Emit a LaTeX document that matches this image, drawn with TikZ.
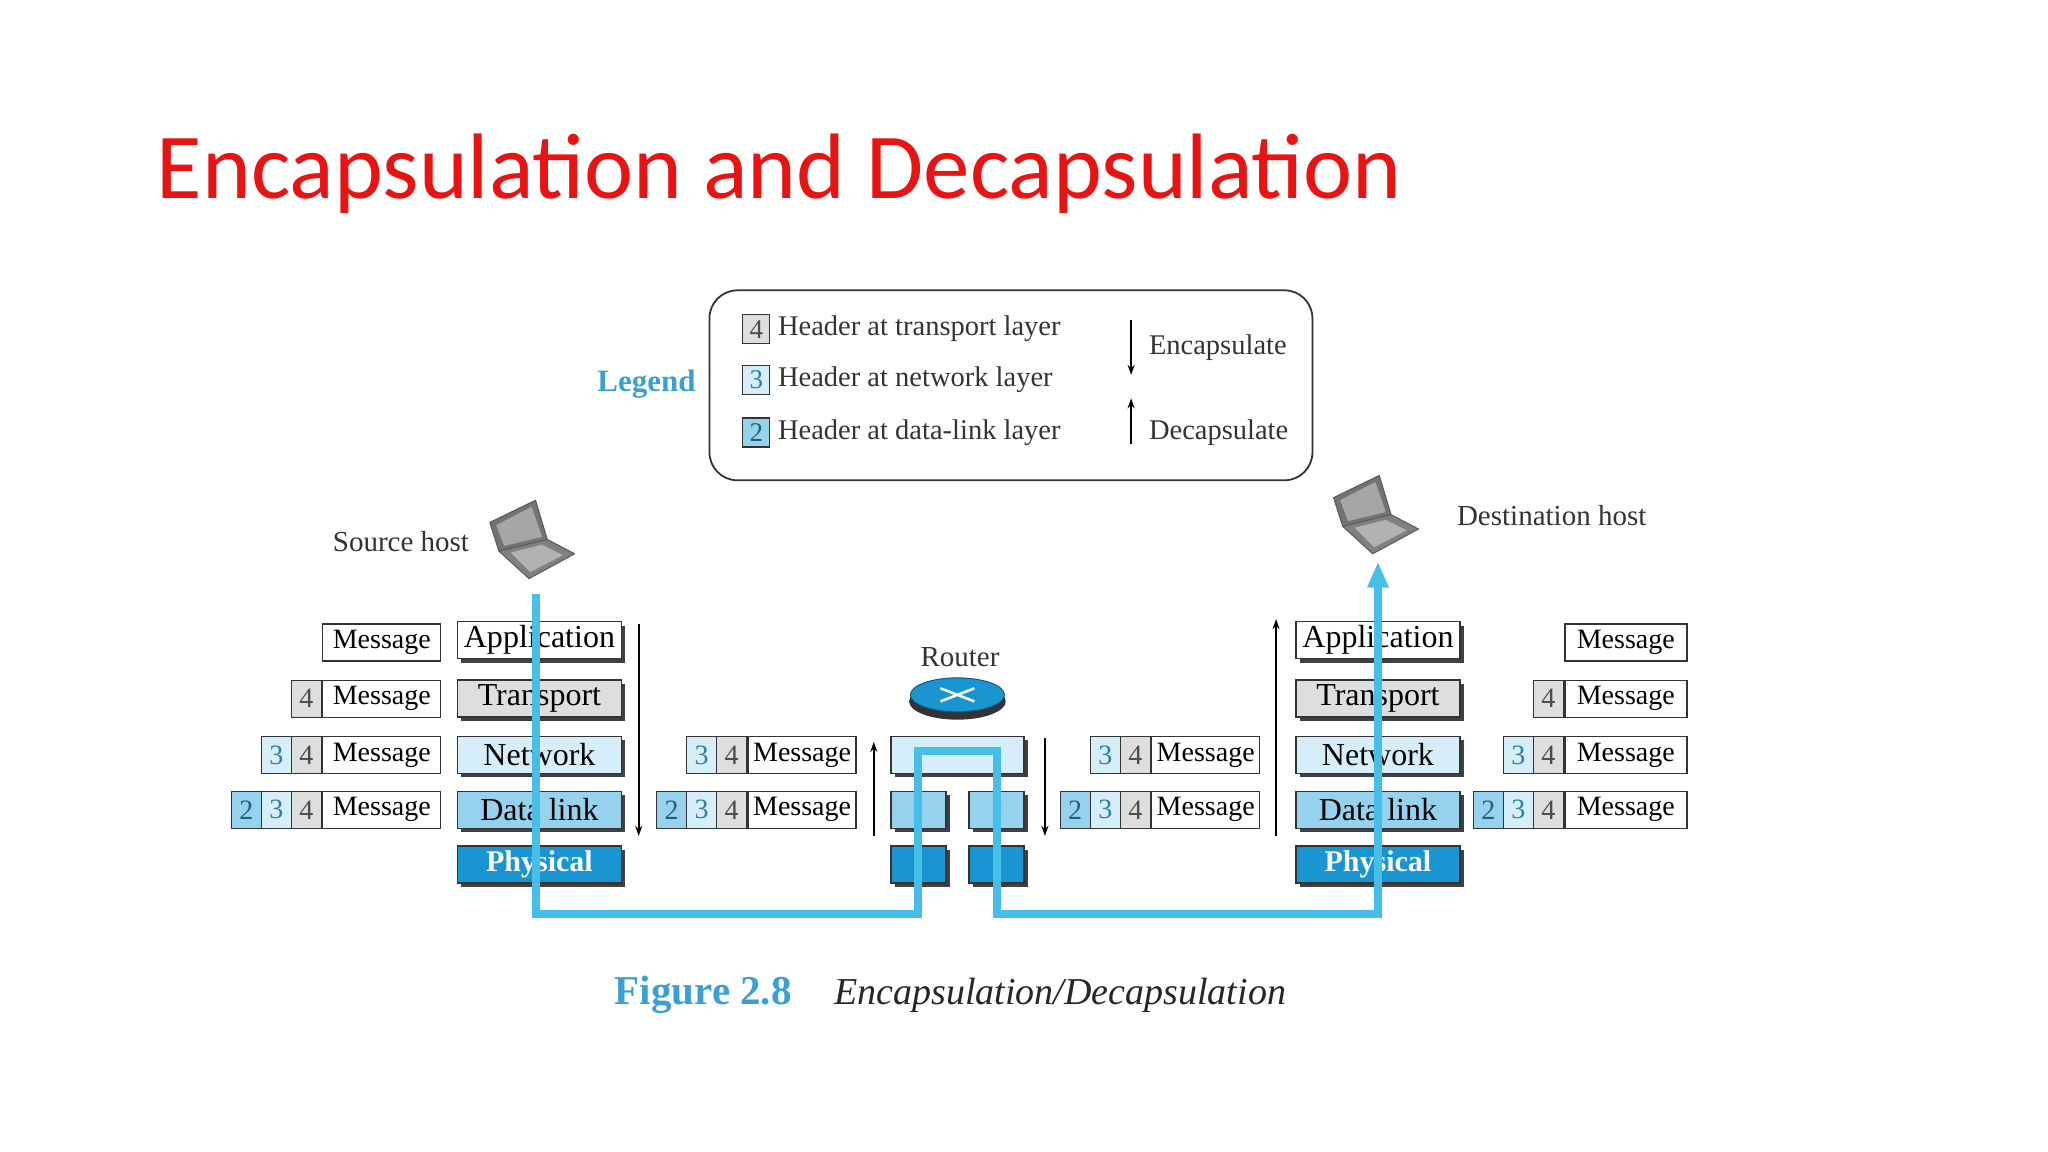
\documentclass[tikz,border=0pt]{standalone}
\usepackage{fontspec}
\setmainfont{Liberation Serif}
\newfontfamily\carl{Carlito}
\usetikzlibrary{shadows,calc,arrows.meta,shapes.geometric}
\definecolor{tred}{RGB}{232,20,20}
\definecolor{lblue}{RGB}{58,160,210}
\definecolor{pipe}{RGB}{70,190,232}
\definecolor{cT}{RGB}{222,222,222}
\definecolor{cN}{RGB}{214,238,250}
\definecolor{cD}{RGB}{150,210,238}
\definecolor{cP}{RGB}{25,150,210}
\tikzset{
 layer/.style={draw=black!80,line width=1.6pt,minimum width=164pt,minimum height=37pt,inner sep=0pt,
   font=\fontsize{32}{34}\selectfont,drop shadow={shadow xshift=4pt,shadow yshift=-4pt,fill=black!75,opacity=1}},
 rbox/.style={draw=black!80,line width=1.6pt,inner sep=0pt,minimum height=37pt,
   drop shadow={shadow xshift=4pt,shadow yshift=-4pt,fill=black!75,opacity=1}},
 msg/.style={draw=black!80,line width=1.4pt,minimum width=118pt,minimum height=37pt,inner sep=0pt,font=\fontsize{28}{30}\selectfont},
 msgs/.style={msg,minimum width=108pt},
 hdr/.style={draw=black!80,line width=1.4pt,minimum width=30pt,minimum height=37pt,inner sep=0pt,font=\fontsize{28}{30}\selectfont,text=black!70},
 hdr4/.style={hdr,fill=cT},
 hdr3/.style={hdr,fill=cN,text=lblue!80!black},
 hdr2/.style={hdr,fill=cD,text=lblue!60!black},
 arr/.style={-{Stealth[length=10pt,width=7pt]},line width=1.8pt},
 lab/.style={font=\fontsize{29}{31}\selectfont,text=black!80},
}
\newcommand\msgrow[5]{%
 \node[#5,anchor=east] (#1) at (#2,#3) {Message};
 \foreach \h [count=\i] in {#4} {\node[hdr\h,anchor=east] (#1h\h) at ($(#1.west)+(-\i*23+23,0)$) {\h};}
}
\begin{document}
\begin{tikzpicture}[x=1.3061pt,y=-1.3061pt]
\useasboundingbox (0,0) rectangle (1568,882);
\node[anchor=base west,inner sep=0pt,text=tred,font=\carl\fontsize{93}{99}\selectfont] (title) at (120,152) {Encapsulation and Decapsulation};

% legend
\node[draw=black!80,line width=1.8pt,rounded corners=28pt,minimum width=603pt,minimum height=190pt] (leg) at (774,295) {};
\node[text=lblue,font=\bfseries\fontsize{31}{33}\selectfont] (legt) at (495,294) {Legend};
\node[hdr4,minimum width=27pt,minimum height=29pt,font=\fontsize{27}{29}\selectfont] (l4) at (579,252) {4};
\node[hdr3,minimum width=27pt,minimum height=29pt,font=\fontsize{27}{29}\selectfont] (l3) at (579,291) {3};
\node[hdr2,minimum width=27pt,minimum height=29pt,font=\fontsize{27}{29}\selectfont] (l2) at (579,331) {2};
\node[lab,anchor=west,font=\fontsize{28.5}{30}\selectfont] (lt4) at (593,252) {Header at transport layer};
\node[lab,anchor=west,font=\fontsize{28.5}{30}\selectfont] (lt3) at (593,291) {Header at network layer};
\node[lab,anchor=west,font=\fontsize{28.5}{30}\selectfont] (lt2) at (593,331) {Header at data-link layer};
\coordinate (ea) at (866,245); \coordinate (eb) at (866,287);
\coordinate (da) at (866,340); \coordinate (db) at (866,305);
\draw[arr] (ea) -- (eb); \draw[arr] (da) -- (db);
\node[lab,anchor=west,font=\fontsize{28.5}{30}\selectfont] (enc) at (877,266) {Encapsulate};
\node[lab,anchor=west,font=\fontsize{28.5}{30}\selectfont] (dec) at (877,331) {Decapsulate};

% hosts
\node[lab] (srct) at (307,415) {Source host};
\node[lab] (dstt) at (1188,395) {Destination host};
\newcommand\laptop[3]{%
 \begin{scope}[shift={(#2,#3)}]
  \fill[black!55] (-36,-12) -- (-1,-29) -- (8,1) -- (-29,10) -- cycle;
  \fill[black!35] (-31,-10) -- (-4,-24) -- (4,-1) -- (-25,6) -- cycle;
  \fill[black!50] (8,1) -- (29,12) -- (-6,31) -- (-29,10) -- cycle;
  \fill[black!30] (4,5) -- (20,13) -- (-5,26) -- (-20,11) -- cycle;
  \draw[black!65,line width=1pt,line join=round] (-36,-12) -- (-1,-29) -- (8,1) -- (29,12) -- (-6,31) -- (-29,10) -- cycle (-29,10) -- (8,1);
 \end{scope}\node[inner sep=0pt,minimum size=40pt] (#1) at (#2,#3) {};}
\laptop{srcl}{411}{412}
\laptop{dstl}{1057}{393}

% stacks
\foreach \nm/\xc in {s/413,d/1055}{
 \node[layer,fill=white] (\nm app) at (\xc,490) {Application};
 \node[layer,fill=cT] (\nm tr) at (\xc,535) {Transport};
 \node[layer,fill=cN] (\nm net) at (\xc,578) {Network};
 \node[layer,fill=cD] (\nm dl) at (\xc,620) {Data link};
 \node[layer,fill=cP,text=white,font=\bfseries\fontsize{30}{32}\selectfont] (\nm ph) at (\xc,662) {Physical};
}
% router
\node[rbox,fill=cN,minimum width=133pt] (rnet) at (733,578) {};
\node[rbox,fill=cD,minimum width=55pt] (rdl1) at (703,620) {};
\node[rbox,fill=cD,minimum width=55pt] (rdl2) at (763,620) {};
\node[rbox,fill=cP,minimum width=55pt] (rph1) at (703,662) {};
\node[rbox,fill=cP,minimum width=55pt] (rph2) at (763,662) {};
\fill[black!80] (733,537) ellipse (37 and 14);
\node[ellipse,fill=cP,draw=cP!60!black,line width=1pt,minimum width=94pt,minimum height=34pt,inner sep=0pt] (rout) at (733,532) {};
\draw[white,line width=2.5pt] (720,527) -- (746,537) (720,537) -- (746,527);
\node[lab] (routt) at (735,503) {Router};

% vertical arrows
\coordinate (a1s) at (489,478); \coordinate (a1e) at (489,640);
\coordinate (a2s) at (669,640); \coordinate (a2e) at (669,568);
\coordinate (a3s) at (800,565); \coordinate (a3e) at (800,640);
\coordinate (a4s) at (977,640); \coordinate (a4e) at (977,474);
\draw[arr] (a1s) -- (a1e); \draw[arr] (a2s) -- (a2e);
\draw[arr] (a3s) -- (a3e); \draw[arr] (a4s) -- (a4e);

% messages
\node[msg,anchor=east] (m1) at (338,492) {Message};
\msgrow{m2}{338}{535}{4}{msg}
\msgrow{m3}{338}{578}{4,3}{msg}
\msgrow{m4}{338}{620}{4,3,2}{msg}
\msgrow{m5}{656}{578}{4,3}{msgs}
\msgrow{m6}{656}{620}{4,3,2}{msgs}
\msgrow{m7}{965}{578}{4,3}{msgs}
\msgrow{m8}{965}{620}{4,3,2}{msgs}
\node[msg,anchor=east,minimum width=122pt] (m9) at (1292,492) {Message};
\msgrow{m10}{1292}{535}{4}{msg,minimum width=122pt}
\msgrow{m11}{1292}{578}{4,3}{msg,minimum width=122pt}
\msgrow{m12}{1292}{620}{4,3,2}{msg,minimum width=122pt}

% pipe
\coordinate (p1) at (410,700); \coordinate (p2) at (703,700); \coordinate (p3) at (703,575);
\coordinate (p4) at (763,575); \coordinate (p5) at (763,700); \coordinate (p6) at (1055,700);
\coordinate (p0) at (410,455); \coordinate (p7) at (1055,430);
\draw[pipe,line width=8pt,line join=miter] (p0) -- (p1) -- (p2) -- (p3) -- (p4) -- (p5) -- (p6) -- ($(p7)+(0,20)$);
\draw[pipe,-{Triangle[length=26pt,width=20pt]},line width=8pt] ($(p6)+(0,-50)$) -- (p7);

% caption
\node[anchor=base west,text=lblue,font=\bfseries\fontsize{41}{43}\selectfont] (fig) at (468,769) {Figure 2.8};
\node[anchor=base west,text=black!85,font=\itshape\fontsize{38}{40}\selectfont] (cap) at (636,769) {Encapsulation/Decapsulation};
\end{tikzpicture}
\end{document}
